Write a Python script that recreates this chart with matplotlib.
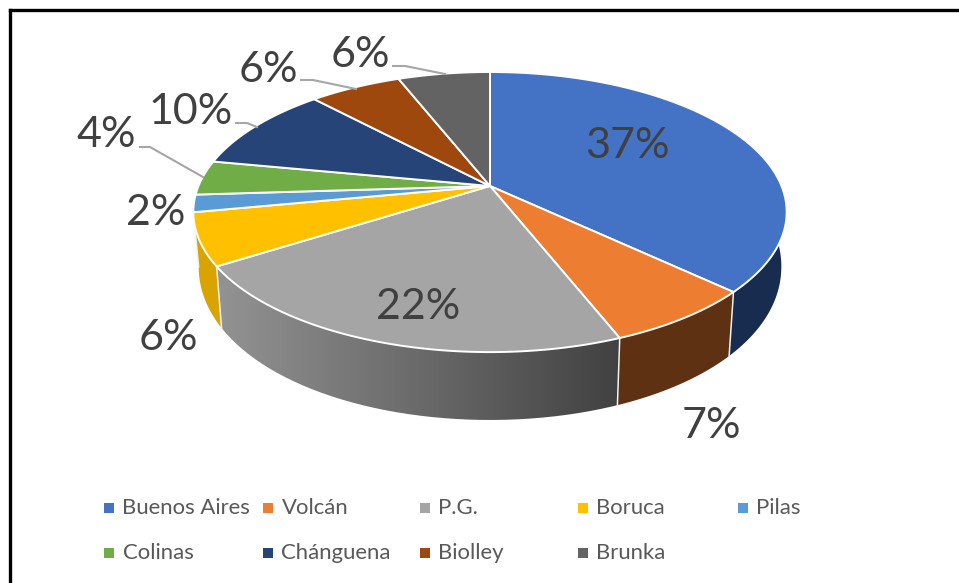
import numpy as np
import matplotlib
matplotlib.use('Agg')
import matplotlib.pyplot as plt
from matplotlib.colors import LinearSegmentedColormap
from matplotlib.patches import PathPatch
from matplotlib.path import Path

categories = ['Buenos Aires', 'Volcán', 'P.G.', 'Boruca', 'Pilas',
              'Colinas', 'Chánguena', 'Biolley', 'Brunka']
values = [37, 7, 22, 6, 2, 4, 10, 6, 6]
labels = ['37%', '7%', '22%', '6%', '2%', '4%', '10%', '6%', '6%']

top_colors = ['#4472c4', '#ed7d31', '#a5a5a5', '#ffc000', '#5b9bd5',
              '#70ad47', '#264478', '#9e480e', '#636363']
wall_colors = ['#182c50', '#5e3113', None, '#d9a400', '#d9a400',
               '#70ad47', '#264478', '#9e480e', '#636363']

# label centres in pixels
label_x = [627, 711, 418, 168, 156, 106, 191, 268, 360]
label_y = [146, 426, 307, 338, 213, 135, 112, 70, 55]

leaders = [[(140, 147), (150, 147), (203, 177)],
           [(236, 123), (247, 123), (257, 127)],
           [(301, 80), (313, 80), (356, 89)],
           [(393, 66), (405, 66), (445, 74)]]

legend_x = [109, 268, 425, 583, 743]
legend_y = [507.5, 552.5]

# perspective of the pie, in pixels
CX, CY = 490, 186
K_TOP, H_TOP, A_TOP = 0.186, 135.2, 291.5
K_BOT, H_BOT, CY_BOT = 0.14, 157.7, 236.6
X_BOT = 0.982

TEXT = '#404040'


def top_edge(deg):
    t = np.radians(deg)
    u, v = np.sin(t), np.cos(t)
    w = 1 + K_TOP * v
    return CX + A_TOP * u / w, CY - H_TOP * v / w


def bottom_edge(deg):
    t = np.radians(deg)
    u, v = np.sin(t), np.cos(t)
    x = CX + X_BOT * A_TOP * u / (1 + K_TOP * v)
    y = CY_BOT - H_BOT * v / (1 + K_BOT * v)
    return x, y


fig = plt.figure(figsize=(9.59, 5.83), dpi=100)
ax = fig.add_axes([0, 0, 1, 1])
ax.axis('off')

edges = np.cumsum([0] + values) / sum(values) * 360

# side walls first, the top face covers whatever is behind it
for i in range(len(values)):
    start = max(edges[i], 90)
    end = min(edges[i + 1], 270)
    if start >= end:
        continue
    a = np.linspace(start, end, 80)
    xt, yt = top_edge(a)
    xb, yb = bottom_edge(a)
    xs = np.r_[xt, xb[::-1]]
    ys = np.r_[yt, yb[::-1]]
    if wall_colors[i] is None:
        cmap = LinearSegmentedColormap.from_list('wall', ['#939393', '#414141'])
        patch = PathPatch(Path(np.c_[xs, ys]), fc='none', ec='none')
        ax.add_patch(patch)
        im = ax.imshow(np.linspace(0, 1, 256).reshape(1, -1), cmap=cmap, aspect='auto',
                       extent=[xs.min(), xs.max(), ys.max(), ys.min()], zorder=1)
        im.set_clip_path(patch)
    else:
        ax.fill(xs, ys, color=wall_colors[i], lw=0, zorder=1)

# dividers on the wall
for d in edges:
    if 90 < d < 262:
        xt, yt = top_edge(d)
        xb, yb = bottom_edge(d)
        ax.plot([xt, xb], [yt, yb], color='#f2f2f2', lw=1.1, zorder=2)

# top face
for i in range(len(values)):
    a = np.linspace(edges[i], edges[i + 1], 120)
    x, y = top_edge(a)
    ax.fill(np.r_[CX, x], np.r_[CY, y], facecolor=top_colors[i], edgecolor='white',
            lw=1.4, joinstyle='round', zorder=3)

for pts in leaders:
    ax.plot(*zip(*pts), color='#a6a6a6', lw=1.5, zorder=4)

for lx, ly, s in zip(label_x, label_y, labels):
    ax.text(lx, ly, s, fontsize=31, family='Lato', color=TEXT,
            ha='center', va='center', zorder=5)

# legend, five columns on two rows
for i, name in enumerate(categories):
    lx = legend_x[i % 5]
    ly = legend_y[i // 5]
    ax.scatter(lx, ly, marker='s', s=42, color=top_colors[i], lw=0, zorder=5)
    ax.text(lx + 13.5, ly + 0.5, name, fontsize=15.9, family='Lato', color='#595959',
            ha='left', va='center', zorder=5)

# frame of the screenshot, top and left only
ax.plot([10, 10], [583, 10], color='black', lw=2.4, zorder=6, solid_capstyle='projecting')
ax.plot([10, 959], [10, 10], color='black', lw=2.4, zorder=6, solid_capstyle='projecting')

ax.set_xlim(0, 959)
ax.set_ylim(583, 0)

fig.savefig('out.png', dpi=100)
